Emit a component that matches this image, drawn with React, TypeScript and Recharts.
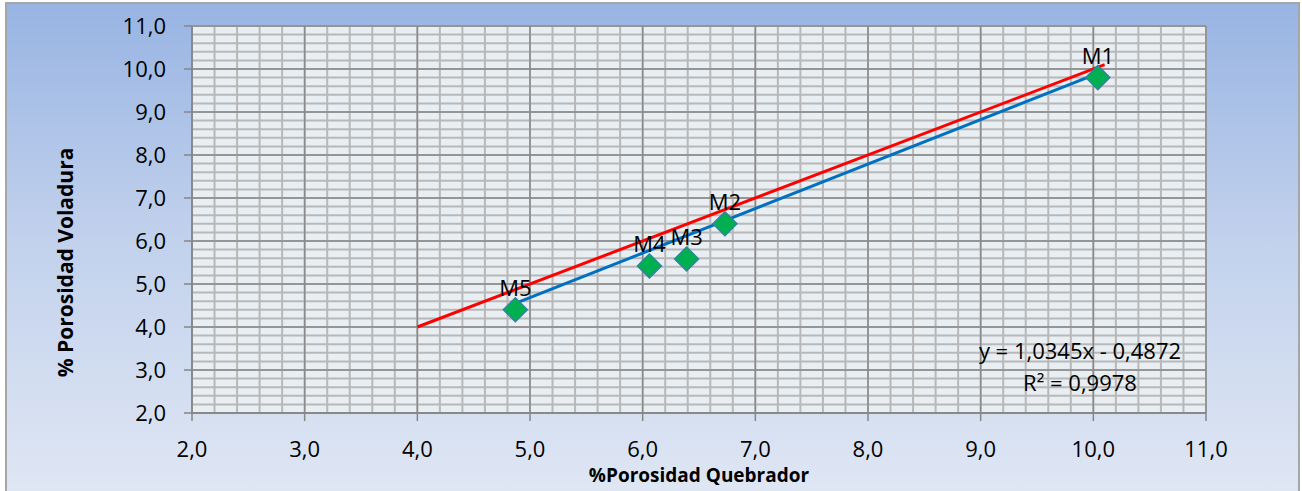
import { ComposedChart, Scatter, Line, XAxis, YAxis, CartesianGrid, Label } from 'recharts';

// muestras
const sampleNames = ['M1', 'M2', 'M3', 'M4', 'M5'];
const porosidadQuebrador = [10.04, 6.73, 6.39, 6.06, 4.87];
const porosidadVoladura = [9.8, 6.4, 5.58, 5.42, 4.4];

// linea de tendencia (azul)
const trendX = [4.87, 10.04];
const trendY = [4.55, 9.9];

// linea 1:1 (roja)
const idealX = [4.0, 10.1];
const idealY = [4.0, 10.1];

const majorTicks = [2, 3, 4, 5, 6, 7, 8, 9, 10, 11];
const minorTicks = Array.from({ length: 46 }, (_, i) => +(2 + i * 0.2).toFixed(1));

const equationLines = ['y = 1,0345x - 0,4872', 'R² = 0,9978'];

const points = sampleNames.map((name, i) => ({ name, x: porosidadQuebrador[i], y: porosidadVoladura[i] }));
const trendData = trendX.map((x, i) => ({ x, y: trendY[i] }));
const idealData = idealX.map((x, i) => ({ x, y: idealY[i] }));

const FONT = '"Open Sans", sans-serif';
const fmt = (v: number) => v.toFixed(1).replace('.', ',');

const Diamond = (props: any) => {
  const { cx, cy, payload } = props;
  const r = 12;
  return (
    <g>
      <polygon
        points={`${cx},${cy - r} ${cx + r},${cy} ${cx},${cy + r} ${cx - r},${cy}`}
        fill="#00b050"
        stroke="#31849b"
        strokeWidth={1.5}
      />
      <text x={cx} y={cy - 14} textAnchor="middle" fontSize={22} fill="#000" fontFamily={FONT}>
        {payload.name}
      </text>
    </g>
  );
};

const YTitle = (props: any) => {
  const { viewBox } = props;
  const x = viewBox.x + 65;
  const y = viewBox.y + viewBox.height / 2 + 43;
  return (
    <text
      x={x}
      y={y}
      transform={`rotate(-90, ${x}, ${y})`}
      textAnchor="middle"
      dominantBaseline="central"
      fontSize={21}
      fontWeight="bold"
      fill="#000"
      fontFamily={FONT}
    >
      % Porosidad Voladura
    </text>
  );
};

export default function App() {
  const tick = { fill: '#000', fontSize: 22, fontFamily: FONT };
  return (
    <div style={{ position: 'absolute', left: 0, top: 0, width: 1302, height: 491, overflow: 'hidden' }}>
      <div
        style={{
          position: 'absolute',
          left: 5,
          top: 2,
          width: 1295,
          height: 500,
          boxSizing: 'border-box',
          border: '2px solid #a6a6a6',
          background: 'linear-gradient(to bottom, #98b4e3 0%, #c0d0ec 45%, #e0e7f4 100%)',
        }}
      />
      <div style={{ position: 'absolute', left: 0, top: 0 }}>
        <ComposedChart width={1302} height={491} margin={{ top: 26, right: 96, bottom: 0, left: 0 }}>
          <XAxis
            xAxisId="minor"
            type="number"
            dataKey="x"
            domain={[2, 11]}
            ticks={minorTicks}
            interval={0}
            hide
            allowDataOverflow
          />
          <YAxis
            yAxisId="minor"
            type="number"
            domain={[2, 11]}
            ticks={minorTicks}
            interval={0}
            hide
            allowDataOverflow
          />
          <CartesianGrid xAxisId="minor" yAxisId="minor" stroke="#b8b8b8" strokeWidth={2} fill="#e9eef2" />
          <CartesianGrid stroke="#8a8a8a" strokeWidth={1.5} />
          <XAxis
            type="number"
            dataKey="x"
            domain={[2, 11]}
            ticks={majorTicks}
            tickFormatter={fmt}
            interval={0}
            height={78}
            tickSize={8}
            tickMargin={20}
            tick={tick}
            stroke="#868686"
            strokeWidth={1.5}
            allowDataOverflow
          >
            <Label
              value="%Porosidad Quebrador"
              position="insideBottom"
              offset={9}
              style={{ fontSize: 19, fontWeight: 'bold', fill: '#000', fontFamily: FONT }}
            />
          </XAxis>
          <YAxis
            type="number"
            dataKey="y"
            domain={[2, 11]}
            ticks={majorTicks}
            tickFormatter={fmt}
            interval={0}
            width={192}
            tickSize={8}
            tickMargin={18}
            tick={tick}
            stroke="#868686"
            strokeWidth={1.5}
            allowDataOverflow
          >
            <Label content={<YTitle />} />
          </YAxis>
          <Scatter data={points} shape={<Diamond />} isAnimationActive={false} />
          <Line data={idealData} dataKey="y" stroke="#ff0000" strokeWidth={3} dot={false} activeDot={false} isAnimationActive={false} />
          <Line data={trendData} dataKey="y" stroke="#0070c0" strokeWidth={3} dot={false} activeDot={false} isAnimationActive={false} />
        </ComposedChart>
      </div>
      <div
        style={{
          position: 'absolute',
          left: 930,
          top: 334,
          width: 300,
          textAlign: 'center',
          fontFamily: FONT,
          fontSize: 22,
          lineHeight: '32px',
          color: '#000',
        }}
      >
        {equationLines.map((l) => (
          <div key={l}>{l}</div>
        ))}
      </div>
    </div>
  );
}
